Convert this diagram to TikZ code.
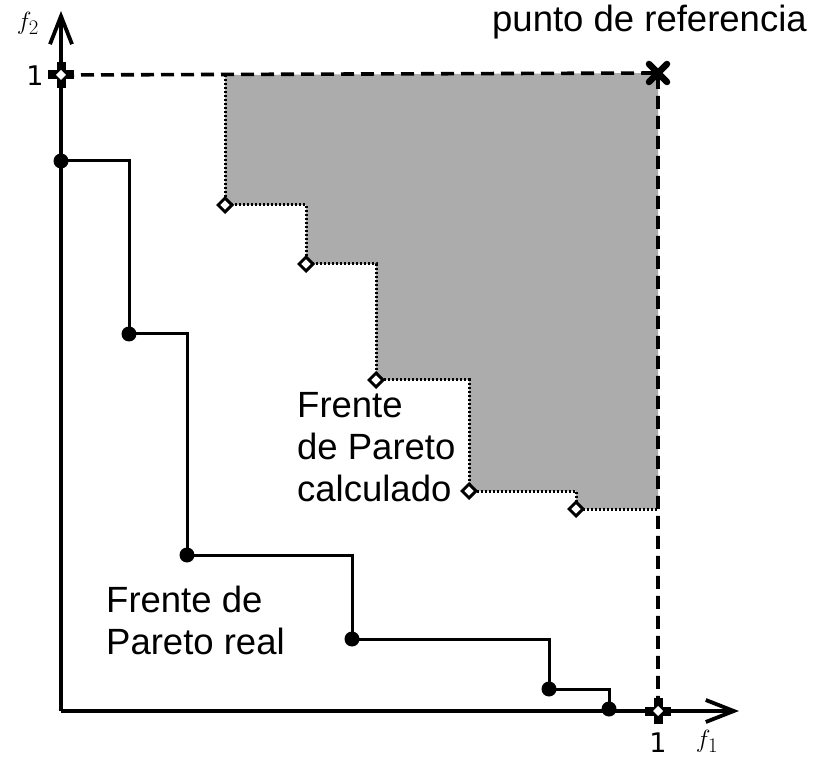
\documentclass[tikz,border=0pt]{standalone}
\usepackage{fontspec}
\setsansfont{Liberation Sans}
\newfontfamily\dvs{DejaVu Sans}
\usetikzlibrary{arrows.meta,shapes.geometric}
\definecolor{shadegray}{RGB}{172,172,172}
\tikzset{
  axisline/.style={line width=3.8pt,-{Straight Barb[length=28pt,width=22pt]}},
  realstep/.style={line width=3pt},
  calcstep/.style={line width=3pt,dash pattern=on 2pt off 2pt},
  refdash/.style={line width=3.6pt,dash pattern=on 13pt off 7pt},
  realpt/.style={circle,fill=black,inner sep=0pt,minimum size=15pt},
  calcpt/.style={diamond,draw=black,fill=white,line width=3pt,inner sep=0pt,minimum size=15pt},
  bigtext/.style={font=\sffamily\fontsize{36.5}{42}\selectfont,inner sep=0pt,align=left},
  ticktext/.style={font=\dvs\fontsize{27}{29}\selectfont,inner sep=0pt},
  axtext/.style={font=\fontsize{31}{33}\selectfont,inner sep=0pt},
  refmark/.pic={
    \draw[line width=9pt] (-13pt,0)--(13pt,0) (0,-13pt)--(0,13pt);
    \fill[white] (0,-5pt)--(5pt,0)--(0,5pt)--(-5pt,0)--cycle;
  },
  crossmark/.pic={
    \draw[line width=6.5pt,line cap=round] (-9pt,-9pt)--(9pt,9pt) (-9pt,9pt)--(9pt,-9pt);
  }
}
\begin{document}
\begin{tikzpicture}[x=1pt,y=-1pt]
\useasboundingbox[fill=white] (0,0) rectangle (825,759);
% key coordinates
\coordinate (O) at (61,711);
\coordinate (ytip) at (61,11);
\coordinate (xtip) at (739,711);
\coordinate (y1) at (61,75);
\coordinate (x1) at (658,711);
\coordinate (R) at (658,73);
\coordinate (ctop) at (225,75);
\coordinate (cend) at (658,509);
% calculated front points
\coordinate (c1) at (225,205);
\coordinate (c2) at (306,264);
\coordinate (c3) at (376,380);
\coordinate (c4) at (469,491);
\coordinate (c5) at (576,509);
% real front points
\coordinate (r1) at (61,161);
\coordinate (r2) at (129,334);
\coordinate (r3) at (187,555);
\coordinate (r4) at (352,639);
\coordinate (r5) at (549,689);
\coordinate (r6) at (609,709);
% shaded dominated region
\fill[shadegray] (ctop) -- (c1) -| (c2) -| (c3) -| (c4) -| (c5) -- (cend) -- (R) -- cycle;
\draw[calcstep] (ctop) -- (c1) -| (c2) -| (c3) -| (c4) -| (c5) -- (cend);
% reference dashed lines
\draw[refdash] (y1) -- (R) -- (x1);
% axes
\draw[axisline] (O) -- (ytip);
\draw[axisline] (O) -- (xtip);
% real front
\draw[realstep] (r1) -| (r2) -| (r3) -| (r4) -| (r5) -| (r6);
\foreach \p in {r1,r2,r3,r4,r5,r6} \node[realpt] (n\p) at (\p) {};
\foreach \p in {c1,c2,c3,c4,c5} \node[calcpt] (n\p) at (\p) {};
% markers
\pic at (y1) {refmark};
\pic at (x1) {refmark};
\pic at (R) {crossmark};
% labels
\node[ticktext] (one2) at (35,76) {1};
\node[ticktext] (one1) at (658,743) {1};
\node[axtext] (f1) at (707,741) {$f_1$};
\node[axtext] (f2) at (28,23) {$f_2$};
\node[bigtext,anchor=base west] (reflabel) at (492,32) {punto de referencia};
\node[bigtext,anchor=north west] (calclabel) at (297,392) {Frente\\de Pareto\\calculado};
\node[bigtext,anchor=north west] (reallabel) at (106,586) {Frente de\\Pareto real};
\end{tikzpicture}
\end{document}
